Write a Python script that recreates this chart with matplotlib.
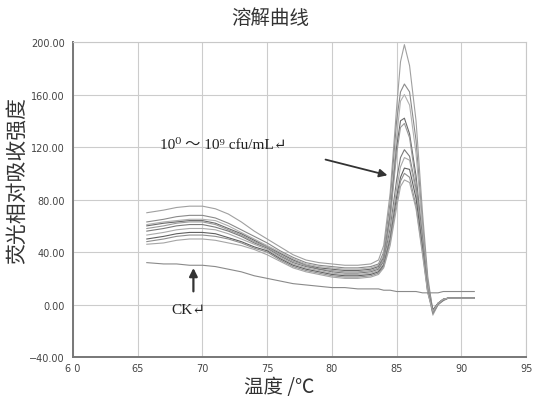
import matplotlib
matplotlib.use("Agg")
import matplotlib.pyplot as plt

plt.rcParams['font.family'] = ['Noto Sans CJK SC', 'DejaVu Sans']

temps = [65.7, 67, 68, 69, 70, 71, 72, 73, 74, 75, 76, 77, 78, 79, 80, 81, 82, 83,
         83.6, 84, 84.5, 85, 85.3, 85.6, 86, 86.5, 87, 87.4, 87.8, 88.2, 88.6, 89, 90, 91]

s1 = [70, 72, 74, 75, 75, 73, 69, 63, 56, 50, 44, 38, 34, 32, 31, 30, 30, 31, 34, 45, 85, 150, 185, 198, 182, 140, 70, 22, -6, 1, 4, 5, 5, 5]
s2 = [63, 65, 67, 68, 68, 66, 62, 57, 52, 47, 41, 36, 32, 30, 29, 28, 28, 29, 31, 40, 78, 140, 162, 168, 162, 125, 62, 18, -4, 1, 4, 5, 5, 5]
s3 = [61, 63, 64, 65, 65, 64, 60, 55, 50, 45, 40, 35, 31, 29, 28, 27, 27, 28, 30, 38, 72, 128, 155, 160, 152, 115, 58, 15, -8, 0, 4, 5, 5, 5]
s4 = [60, 62, 63, 64, 64, 62, 58, 54, 49, 44, 39, 34, 30, 28, 27, 26, 26, 27, 29, 36, 68, 120, 140, 142, 130, 98, 50, 12, -5, 1, 4, 5, 5, 5]
s5 = [58, 60, 62, 63, 63, 61, 57, 53, 48, 44, 38, 33, 30, 27, 26, 25, 25, 26, 28, 35, 65, 115, 135, 138, 127, 93, 46, 12, -5, 1, 4, 5, 5, 5]
s6 = [56, 58, 60, 61, 61, 59, 56, 52, 47, 43, 37, 32, 29, 27, 25, 24, 24, 25, 27, 33, 58, 95, 112, 118, 113, 88, 46, 12, -6, 0, 3, 5, 5, 5]
s7 = [53, 55, 57, 58, 58, 57, 54, 50, 46, 42, 36, 31, 28, 26, 24, 23, 23, 24, 26, 31, 54, 88, 105, 112, 110, 86, 46, 12, -5, 1, 4, 5, 5, 5]
s8 = [50, 52, 54, 55, 55, 54, 51, 48, 44, 41, 35, 30, 27, 25, 23, 22, 22, 23, 25, 30, 50, 82, 97, 104, 103, 81, 43, 10, -4, 1, 4, 5, 5, 5]
s9 = [48, 50, 52, 53, 53, 52, 50, 47, 43, 40, 34, 29, 26, 24, 22, 21, 21, 22, 24, 29, 48, 78, 94, 100, 97, 75, 40, 10, -7, 0, 4, 5, 5, 5]
s10 = [46, 47, 49, 50, 50, 49, 47, 45, 42, 38, 33, 28, 25, 23, 21, 20, 20, 21, 23, 28, 45, 74, 90, 95, 93, 73, 38, 9, -5, 1, 4, 5, 5, 5]
ck = [32, 31, 31, 30, 30, 29, 27, 25, 22, 20, 18, 16, 15, 14, 13, 13, 12, 12, 12, 11, 11, 10, 10, 10, 10, 10, 9, 9, 9, 9, 10, 10, 10, 10]

series = [s1, s2, s3, s4, s5, s6, s7, s8, s9, s10]
series_colors = ['#a0a0a0', '#8a8a8a', '#b0b0b0', '#6a6a6a', '#9a9a9a',
                 '#7a7a7a', '#aaaaaa', '#606060', '#8f8f8f', '#a5a5a5']

x_ticks = [60, 65, 70, 75, 80, 85, 90, 95]
x_tick_labels = ['6 0', '65', '70', '75', '80', '85', '90', '95']
y_ticks = [-40, 0, 40, 80, 120, 160, 200]
y_tick_labels = ['\u221240.00', '0.00', '40.00', '80.00', '120.00', '160.00', '200.00']

fig = plt.figure(figsize=(5.33, 4.02), dpi=100)
ax = fig.add_axes([0.137, 0.109, 0.850, 0.784])

for s, c in zip(series, series_colors):
    ax.plot(temps, s, color=c, lw=0.8)
ax.plot(temps, ck, color='#8a8a8a', lw=0.8)

ax.set_xlim(60, 95)
ax.set_ylim(-40, 200)
ax.set_xticks(x_ticks)
ax.set_xticklabels(x_tick_labels, fontsize=7, color='#444444', family=['DejaVu Sans'])
ax.set_yticks(y_ticks)
ax.set_yticklabels(y_tick_labels, fontsize=7, color='#444444', family=['DejaVu Sans'])
ax.tick_params(axis='x', length=0, pad=4)
ax.tick_params(axis='y', length=0, pad=6)
ax.grid(True, color='#cccccc', lw=0.8)
ax.set_axisbelow(True)
for side in ['top', 'right']:
    ax.spines[side].set_color('#c8c8c8')
    ax.spines[side].set_linewidth(0.8)
for side in ['left', 'bottom']:
    ax.spines[side].set_color('#777777')
    ax.spines[side].set_linewidth(1.4)

fig.text(0.507, 0.955, '溶解曲线', ha='center', va='center', fontsize=14, color='#333333')
ax.set_xlabel('温度 /℃', fontsize=14, color='#333333')
ax.xaxis.set_label_coords(0.455, -0.06)
ax.set_ylabel('荧光相对吸收强度', fontsize=15, color='#333333')
ax.yaxis.set_label_coords(-0.1, 0.565)

ax.text(66.7, 122, '10\u2070 \uff5e 10\u2079 cfu/mL\u21b5', fontsize=11, color='#222222',
        va='center', ha='left', family=['Liberation Serif', 'DejaVu Serif', 'Noto Sans CJK SC'])
ax.annotate('', xy=(84.5, 98), xytext=(79.3, 111),
            arrowprops=dict(arrowstyle='-|>', color='#333333', lw=1.3, mutation_scale=12))
ax.annotate('', xy=(69.3, 30), xytext=(69.3, 8),
            arrowprops=dict(arrowstyle='-|>', color='#333333', lw=1.6, mutation_scale=12))
ax.text(68.9, -4, 'CK\u21b5', fontsize=11, color='#222222', va='center', ha='center',
        family=['Liberation Serif', 'DejaVu Serif'])

fig.savefig('out.png', dpi=100, facecolor='white')
